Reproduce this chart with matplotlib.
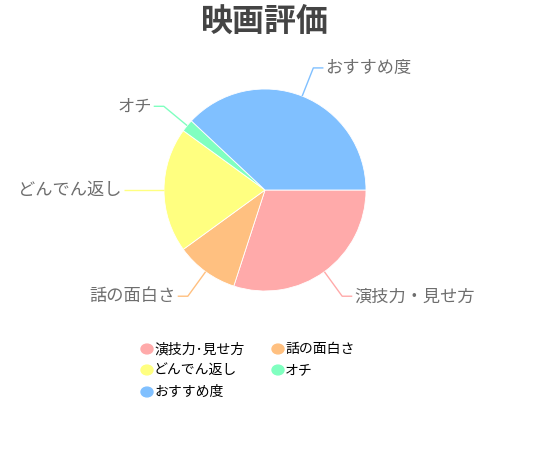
import matplotlib.pyplot as plt
import numpy as np

plt.rcParams['font.family'] = ['Noto Sans CJK JP', 'DejaVu Sans']

# data
labels = ['演技力・見せ方', '話の面白さ', 'どんでん返し', 'オチ', 'おすすめ度']
legend_labels = ['演技力･見せ方', '話の面白さ', 'どんでん返し', 'オチ', 'おすすめ度']
values = [30, 10, 20, 2, 38]
colors = ['#FFAAAA', '#FFC080', '#FFFF80', '#80FFC0', '#80C0FF']
title = '映画評価'

W, H = 550, 449
cx, cy, R = 265, 190, 101   # pie centre / radius in pixels

fig = plt.figure(figsize=(W / 100, H / 100), dpi=100)
ax = fig.add_axes([0, 0, 1, 1])

wedges, _ = ax.pie(values, colors=colors, startangle=0, counterclock=False,
                   radius=1, center=(0, 0), frame=True,
                   wedgeprops=dict(edgecolor='white', linewidth=0.6))
ax.set_xlim(-cx / R, (W - cx) / R)
ax.set_ylim(-(H - cy) / R, cy / R)
ax.set_aspect('equal')
ax.axis('off')

# outside labels with leader lines
for w, lab, col in zip(wedges, labels, colors):
    mid = np.deg2rad((w.theta1 + w.theta2) / 2)
    x0, y0 = np.cos(mid) * 1.0, np.sin(mid) * 1.0
    x1, y1 = np.cos(mid) * 1.3, np.sin(mid) * 1.3
    side = 1 if np.cos(mid) >= 0 else -1
    x2 = x1 + side * 0.1
    ax.plot([x0, x1, x2], [y0, y1, y1], color=col, lw=1, solid_capstyle='butt')
    ax.text(x2 + side * 0.02, y1, lab, ha='left' if side > 0 else 'right',
            va='center', fontsize=12.4, color='#6e6e6e')

fig.text(265 / W, 1 - 22 / H, title, ha='center', va='center',
         fontsize=23, fontweight='bold', color='#444444')

# legend, filled row by row in two columns
col_x = [147, 278]
row_y = [349, 370, 392]
for i, (lab, col) in enumerate(zip(legend_labels, colors)):
    px, py = col_x[i % 2], row_y[i // 2]
    fig.patches.append(plt.Circle((px / W, 1 - py / H), 6 / W,
                                  transform=fig.transFigure, color=col))
    fig.text((px + 7) / W, 1 - py / H, lab, ha='left', va='center',
             fontsize=10, color='black')

fig.savefig('out.png', dpi=100)
